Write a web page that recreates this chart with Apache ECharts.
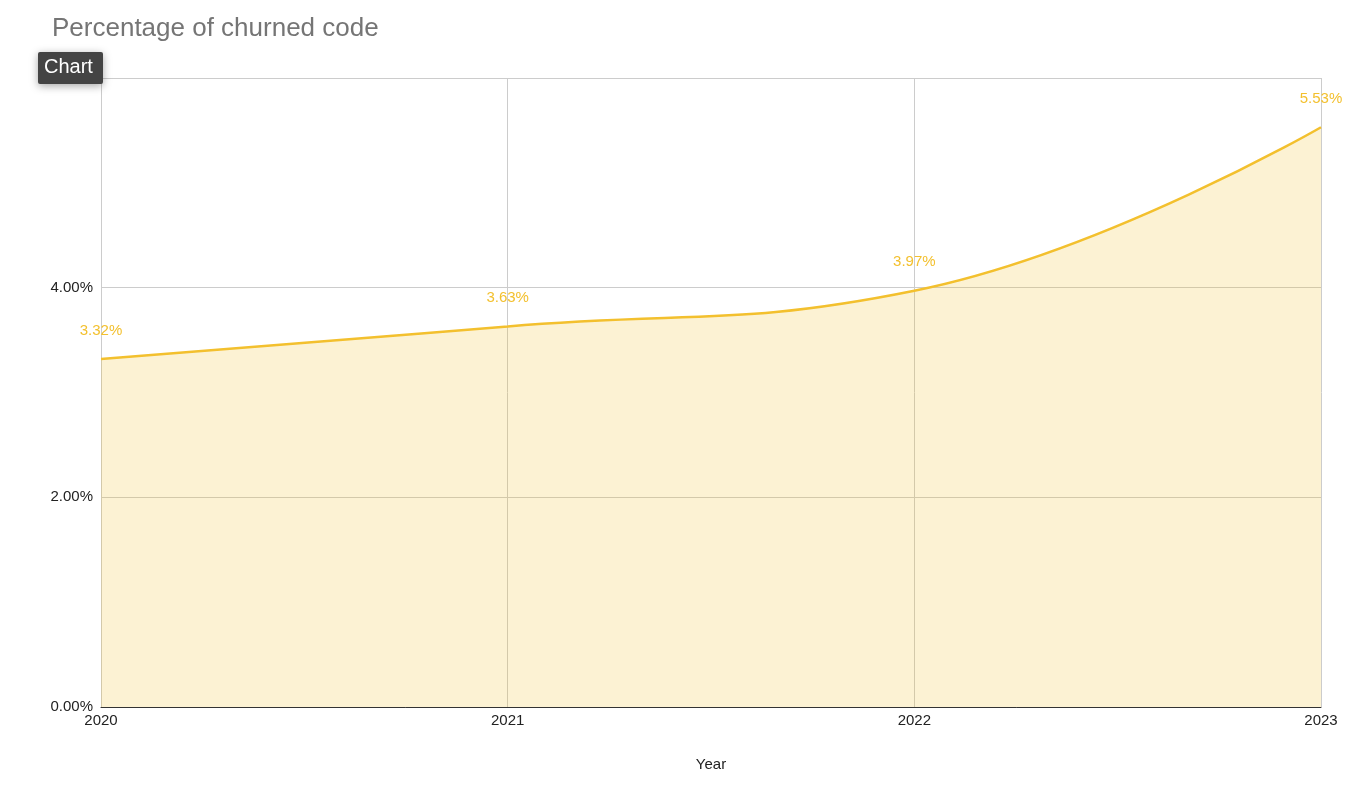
<!DOCTYPE html>
<html><head><meta charset="utf-8">
<script src="https://cdn.jsdelivr.net/npm/echarts@6/dist/echarts.min.js"></script>
<style>html,body{margin:0;padding:0;background:#fff}#c{width:1365px;height:792px}</style>
</head><body><div id="c"></div>
<script>
const categories = ['2020', '2021', '2022', '2023'];
const churnValues = [3.32, 3.63, 3.97, 5.53];
const yTicks = [0, 2, 4, 6];
const titleText = 'Percentage of churned code';
const xAxisName = 'Year';

const FONT = 'Liberation Sans, Arial, sans-serif';
const chart = echarts.init(document.getElementById('c'));
chart.setOption({
  animation: false,
  textStyle: { fontFamily: FONT },
  title: {
    text: titleText, left: 47, top: 11,
    textStyle: { fontSize: 26, fontWeight: 'normal', color: '#757575', fontFamily: FONT }
  },
  grid: { left: 101, right: 44, top: 78, bottom: 85, containLabel: false },
  xAxis: {
    type: 'category', data: categories, boundaryGap: false,
    name: xAxisName, nameLocation: 'middle', nameGap: 50,
    nameTextStyle: { color: '#222', fontSize: 15, fontFamily: FONT },
    axisLine: { show: true, lineStyle: { color: '#333', width: 1 } },
    axisTick: { show: false },
    axisLabel: { color: '#222', fontSize: 15, margin: 6, fontFamily: FONT },
    splitLine: { show: true, lineStyle: { color: '#cccccc' } }
  },
  yAxis: {
    type: 'value', min: yTicks[0], max: yTicks[yTicks.length - 1], interval: 2,
    axisLine: { show: true, lineStyle: { color: '#cccccc' } },
    axisTick: { show: false },
    axisLabel: { color: '#222', fontSize: 15, margin: 8, fontFamily: FONT, formatter: v => v.toFixed(2) + '%' },
    splitLine: { show: true, lineStyle: { color: '#cccccc' } }
  },
  series: [{
    type: 'line', data: churnValues, smooth: 0.45,
    symbol: 'circle', symbolSize: 2, showSymbol: true,
    itemStyle: { color: 'rgba(243,192,46,0)' },
    lineStyle: { color: '#f3c02e', width: 2.5 },
    areaStyle: { color: 'rgba(243,192,46,0.3)' },
    label: {
      show: true, position: 'top', distance: 20, color: '#f3c02e', fontSize: 15, fontFamily: FONT,
      formatter: p => p.value.toFixed(2) + '%'
    },
    labelLayout: { hideOverlap: false },
    z: 3
  }],
  graphic: [{
    type: 'rect', left: 38, top: 52, zlevel: 1, z: 100,
    shape: { width: 65, height: 32, r: 2 },
    style: { fill: '#444444', shadowBlur: 8, shadowColor: 'rgba(0,0,0,0.35)', shadowOffsetY: 2 }
  }, {
    type: 'text', left: 44, top: 57, zlevel: 1, z: 101,
    style: { text: 'Chart', fill: '#ffffff', fontSize: 20, fontFamily: FONT }
  }]
});
</script></body></html>
